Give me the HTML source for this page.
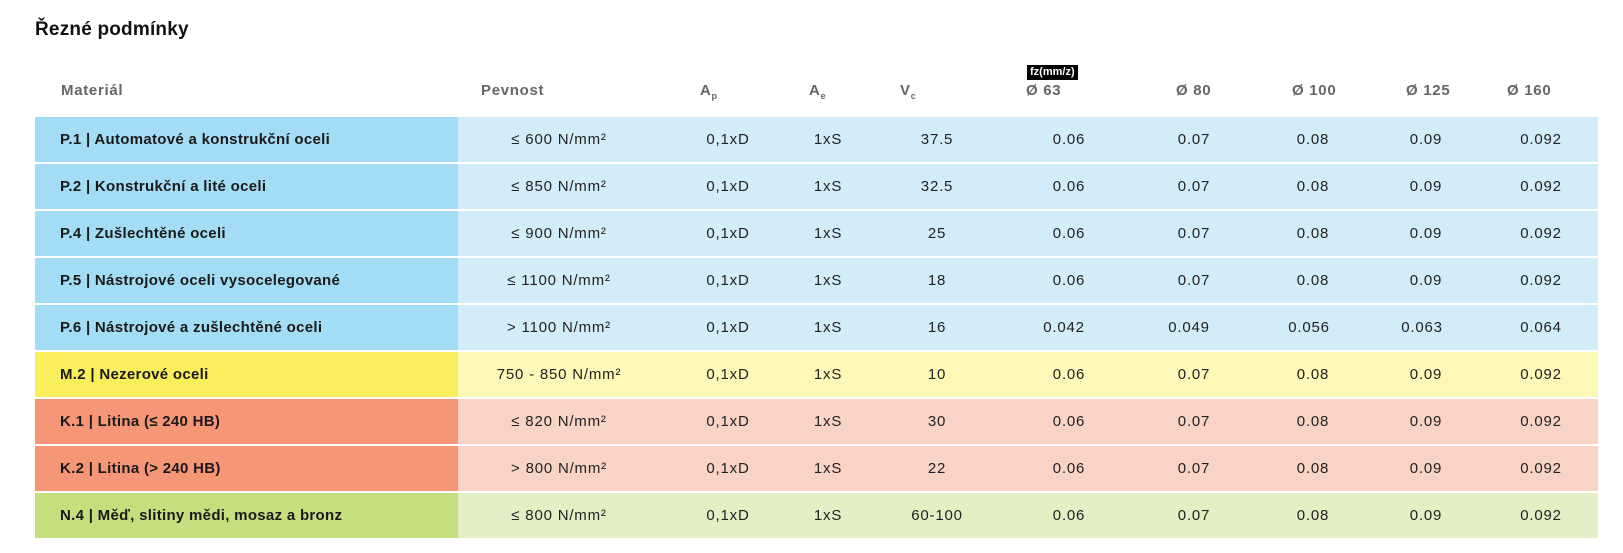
<!DOCTYPE html>
<html><head><meta charset="utf-8"><style>
body{margin:0;width:1623px;height:553px;background:#fff;font-family:"Liberation Sans",Arial,sans-serif;position:relative;overflow:hidden;color:#1a1a1a}
.t{position:absolute;left:35px;top:19px;font-size:19px;font-weight:bold;color:#111;letter-spacing:0.2px}
.h{position:absolute;top:82px;font-size:15px;font-weight:bold;color:#666;white-space:nowrap;letter-spacing:0.7px}
.h sub{font-size:9px}
.fz{position:absolute;left:1027px;top:65px;background:#000;color:#fff;font-size:11px;font-weight:bold;padding:1px 3px;line-height:13px}
.r{position:absolute;left:35px;width:1563px;height:45px}
.m{position:absolute;left:0;top:0;width:423px;height:45px}
.c{position:absolute;top:0;line-height:45px;font-size:15px;white-space:nowrap;transform:translateX(-50%);letter-spacing:0.8px;color:#222}
.n{position:absolute;left:25px;top:0;line-height:45px;font-size:15px;font-weight:bold;white-space:nowrap;letter-spacing:0.3px}
</style></head><body>
<div class="t">Řezné podmínky</div>
<div class="h" style="left:61px">Materiál</div>
<div class="h" style="left:481px">Pevnost</div>
<div class="h" style="left:700px">A<sub>p</sub></div>
<div class="h" style="left:809px">A<sub>e</sub></div>
<div class="h" style="left:900px">V<sub>c</sub></div>
<div class="fz">fz(mm/z)</div>
<div class="h" style="left:1026px">Ø 63</div>
<div class="h" style="left:1176px">Ø 80</div>
<div class="h" style="left:1292px">Ø 100</div>
<div class="h" style="left:1406px">Ø 125</div>
<div class="h" style="left:1507px">Ø 160</div>
<div class="r" style="top:117px;background:#d2ecf9"><div class="m" style="background:#a3dcf5"></div><span class="n">P.1 | Automatové a konstrukční oceli</span><span class="c" style="left:524px">≤ 600 N/mm²</span><span class="c" style="left:693px">0,1xD</span><span class="c" style="left:793px">1xS</span><span class="c" style="left:902px">37.5</span><span class="c" style="left:1034px">0.06</span><span class="c" style="left:1159px">0.07</span><span class="c" style="left:1278px">0.08</span><span class="c" style="left:1391px">0.09</span><span class="c" style="left:1506px">0.092</span></div>
<div class="r" style="top:164px;background:#d2ecf9"><div class="m" style="background:#a3dcf5"></div><span class="n">P.2 | Konstrukční a lité oceli</span><span class="c" style="left:524px">≤ 850 N/mm²</span><span class="c" style="left:693px">0,1xD</span><span class="c" style="left:793px">1xS</span><span class="c" style="left:902px">32.5</span><span class="c" style="left:1034px">0.06</span><span class="c" style="left:1159px">0.07</span><span class="c" style="left:1278px">0.08</span><span class="c" style="left:1391px">0.09</span><span class="c" style="left:1506px">0.092</span></div>
<div class="r" style="top:211px;background:#d2ecf9"><div class="m" style="background:#a3dcf5"></div><span class="n">P.4 | Zušlechtěné oceli</span><span class="c" style="left:524px">≤ 900 N/mm²</span><span class="c" style="left:693px">0,1xD</span><span class="c" style="left:793px">1xS</span><span class="c" style="left:902px">25</span><span class="c" style="left:1034px">0.06</span><span class="c" style="left:1159px">0.07</span><span class="c" style="left:1278px">0.08</span><span class="c" style="left:1391px">0.09</span><span class="c" style="left:1506px">0.092</span></div>
<div class="r" style="top:258px;background:#d2ecf9"><div class="m" style="background:#a3dcf5"></div><span class="n">P.5 | Nástrojové oceli vysocelegované</span><span class="c" style="left:524px">≤ 1100 N/mm²</span><span class="c" style="left:693px">0,1xD</span><span class="c" style="left:793px">1xS</span><span class="c" style="left:902px">18</span><span class="c" style="left:1034px">0.06</span><span class="c" style="left:1159px">0.07</span><span class="c" style="left:1278px">0.08</span><span class="c" style="left:1391px">0.09</span><span class="c" style="left:1506px">0.092</span></div>
<div class="r" style="top:305px;background:#d2ecf9"><div class="m" style="background:#a3dcf5"></div><span class="n">P.6 | Nástrojové a zušlechtěné oceli</span><span class="c" style="left:524px">&gt; 1100 N/mm²</span><span class="c" style="left:693px">0,1xD</span><span class="c" style="left:793px">1xS</span><span class="c" style="left:902px">16</span><span class="c" style="left:1029px">0.042</span><span class="c" style="left:1154px">0.049</span><span class="c" style="left:1274px">0.056</span><span class="c" style="left:1387px">0.063</span><span class="c" style="left:1506px">0.064</span></div>
<div class="r" style="top:352px;background:#fdf8b8"><div class="m" style="background:#f9ef5d"></div><span class="n">M.2 | Nezerové oceli</span><span class="c" style="left:524px">750 - 850 N/mm²</span><span class="c" style="left:693px">0,1xD</span><span class="c" style="left:793px">1xS</span><span class="c" style="left:902px">10</span><span class="c" style="left:1034px">0.06</span><span class="c" style="left:1159px">0.07</span><span class="c" style="left:1278px">0.08</span><span class="c" style="left:1391px">0.09</span><span class="c" style="left:1506px">0.092</span></div>
<div class="r" style="top:399px;background:#f9d3c6"><div class="m" style="background:#f59677"></div><span class="n">K.1 | Litina (≤ 240 HB)</span><span class="c" style="left:524px">≤ 820 N/mm²</span><span class="c" style="left:693px">0,1xD</span><span class="c" style="left:793px">1xS</span><span class="c" style="left:902px">30</span><span class="c" style="left:1034px">0.06</span><span class="c" style="left:1159px">0.07</span><span class="c" style="left:1278px">0.08</span><span class="c" style="left:1391px">0.09</span><span class="c" style="left:1506px">0.092</span></div>
<div class="r" style="top:446px;background:#f9d3c6"><div class="m" style="background:#f59677"></div><span class="n">K.2 | Litina (&gt; 240 HB)</span><span class="c" style="left:524px">&gt; 800 N/mm²</span><span class="c" style="left:693px">0,1xD</span><span class="c" style="left:793px">1xS</span><span class="c" style="left:902px">22</span><span class="c" style="left:1034px">0.06</span><span class="c" style="left:1159px">0.07</span><span class="c" style="left:1278px">0.08</span><span class="c" style="left:1391px">0.09</span><span class="c" style="left:1506px">0.092</span></div>
<div class="r" style="top:493px;background:#e5efc6"><div class="m" style="background:#c5df7e"></div><span class="n">N.4 | Měď, slitiny mědi, mosaz a bronz</span><span class="c" style="left:524px">≤ 800 N/mm²</span><span class="c" style="left:693px">0,1xD</span><span class="c" style="left:793px">1xS</span><span class="c" style="left:902px">60-100</span><span class="c" style="left:1034px">0.06</span><span class="c" style="left:1159px">0.07</span><span class="c" style="left:1278px">0.08</span><span class="c" style="left:1391px">0.09</span><span class="c" style="left:1506px">0.092</span></div>
</body></html>
